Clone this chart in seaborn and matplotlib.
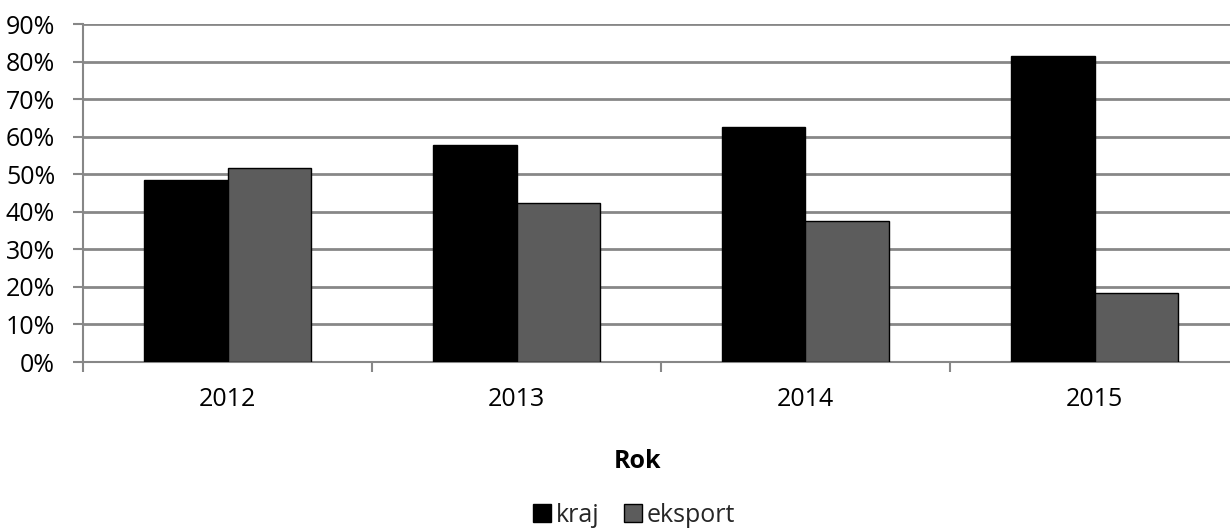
import matplotlib
matplotlib.use("Agg")
import matplotlib.pyplot as plt
from matplotlib.patches import Patch
from matplotlib.ticker import PercentFormatter, FixedLocator
import seaborn as sns
import pandas as pd

# Share of sales by destination, per year
years = ["2012", "2013", "2014", "2015"]
kraj = [48.4, 57.7, 62.5, 81.5]
eksport = [51.6, 42.3, 37.5, 18.5]
series_names = ["kraj", "eksport"]
y_ticks = list(range(0, 91, 10))

df = pd.DataFrame({
    "Rok": years * 2,
    "value": kraj + eksport,
    "series": [series_names[0]] * len(years) + [series_names[1]] * len(years),
})

sns.set_theme(style="white")
plt.rcParams["font.family"] = ["Open Sans", "DejaVu Sans"]

colors = {"kraj": "#000000", "eksport": "#5c5c5c"}
grid_color = "#878787"
fs = 18

fig = plt.figure(figsize=(12.3, 5.3), dpi=100)
ax = fig.add_axes([83 / 1230, 1 - 362 / 530, (1239 - 83) / 1230, (362 - 24) / 530])

sns.barplot(data=df, x="Rok", y="value", hue="series", palette=colors,
            width=0.575, gap=0, edgecolor="black", linewidth=1.0,
            ax=ax, legend=False, zorder=3)

ax.set_xlim(-0.5, len(years) - 0.5)
ax.set_ylim(0, 90)
ax.set_yticks(y_ticks)
ax.yaxis.set_major_formatter(PercentFormatter(decimals=0))
ax.yaxis.grid(True, color=grid_color, linewidth=2.0, zorder=0)
ax.set_axisbelow(True)

for side in ["top", "right"]:
    ax.spines[side].set_visible(False)
for side in ["left", "bottom"]:
    ax.spines[side].set_color(grid_color)
    ax.spines[side].set_linewidth(1.5)
    ax.spines[side].set_zorder(1)

ax.tick_params(axis="y", which="major", length=7, width=1.5, color=grid_color,
               pad=13, labelsize=fs, labelcolor="black", left=True)
ax.tick_params(axis="x", which="major", length=0, pad=18, labelsize=fs,
               labelcolor="black")
ax.xaxis.set_minor_locator(FixedLocator([i - 0.5 for i in range(len(years) + 1)]))
ax.tick_params(axis="x", which="minor", length=7, width=1.5, color=grid_color,
               bottom=True)

ax.set_xlabel("")
ax.set_ylabel("")

fig.text(637 / 1230, 1 - 461 / 530, "Rok", ha="center", va="center",
         fontsize=fs, fontweight="bold", color="black")

handles = [Patch(facecolor=colors[s], edgecolor="black", linewidth=1.0, label=s)
           for s in series_names]
fig.legend(handles=handles, loc="center", bbox_to_anchor=(634 / 1230, 1 - 515 / 530),
           ncol=2, frameon=False, fontsize=fs, handlelength=0.7, handleheight=0.7,
           handletextpad=0.2, columnspacing=1.0)

fig.savefig("out.png", dpi=100, facecolor="white")
